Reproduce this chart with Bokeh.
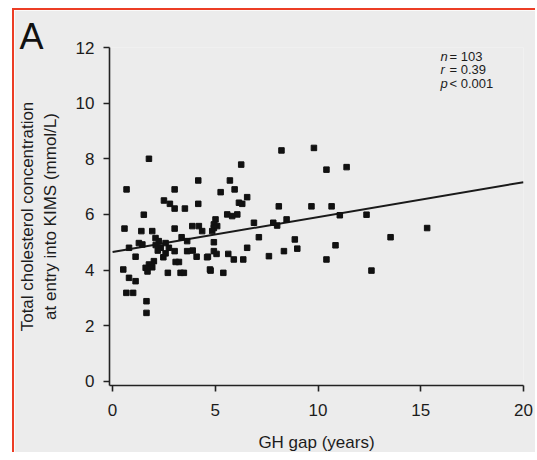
from bokeh.plotting import figure
from bokeh.models import Range1d, Label, FixedTicker
from bokeh.embed import file_html
from bokeh.resources import INLINE

# GH gap (years) and total cholesterol (mmol/L) for n = 103 patients
gh_gap = [1.77, 4.17, 0.68, 3.02, 2.50, 2.79, 3.02, 3.52, 4.17, 1.52,
          0.58, 1.40, 1.93, 3.02, 3.88, 4.20, 4.36, 3.36, 2.09, 2.25,
          1.28, 1.45, 2.58, 3.63, 0.80, 2.34, 2.74, 3.02, 3.63, 2.58,
          2.47, 1.12, 4.09, 4.64, 2.01, 3.07, 3.23, 1.77, 1.61, 1.93,
          0.52, 2.69, 3.31, 3.47, 4.74, 0.80, 1.12, 0.67, 1.00, 1.65,
          1.65, 8.22, 6.26, 5.71, 5.26, 5.94, 6.55, 6.15, 6.31, 8.09,
          5.58, 5.82, 6.07, 5.01, 4.93, 5.09, 4.93, 6.88, 7.82, 8.01,
          8.47, 7.12, 4.93, 8.87, 6.55, 8.99, 4.93, 5.06, 4.60, 5.63,
          5.90, 6.36, 7.61, 8.34, 4.77, 5.39, 9.80, 10.41, 11.39, 9.68,
          10.66, 11.06, 12.36, 13.53, 15.31, 10.85, 10.41, 12.60, 4.85, 2.20,
          1.70, 2.10, 3.90]
cholesterol = [8.00, 7.22, 6.90, 6.90, 6.50, 6.38, 6.21, 6.21, 6.38, 5.99,
               5.49, 5.40, 5.40, 5.49, 5.58, 5.58, 5.40, 5.18, 5.15, 5.04,
               4.97, 4.92, 4.97, 5.04, 4.80, 4.80, 4.80, 4.68, 4.68, 4.60,
               4.46, 4.48, 4.48, 4.48, 4.32, 4.29, 4.29, 4.20, 4.08, 4.10,
               4.02, 3.90, 3.90, 3.90, 4.02, 3.72, 3.60, 3.18, 3.18, 2.88,
               2.46, 8.30, 7.79, 7.22, 6.80, 6.90, 6.62, 6.42, 6.38, 6.29,
               6.00, 5.94, 6.00, 5.82, 5.64, 5.58, 5.51, 5.70, 5.70, 5.60,
               5.82, 5.18, 5.00, 5.10, 4.80, 4.77, 4.68, 4.58, 4.46, 4.58,
               4.38, 4.38, 4.50, 4.68, 3.98, 3.90, 8.39, 7.61, 7.70, 6.29,
               6.29, 5.97, 5.99, 5.18, 5.51, 4.89, 4.38, 3.98, 5.40, 4.70,
               3.95, 4.90, 4.70]

# regression line end points
fit_x = [0, 20]
fit_y = [4.65, 7.16]

x_ticks = [0, 5, 10, 15, 20]
y_ticks = [0, 2, 4, 6, 8, 10, 12]

stats_vars = ["n", "r", "p"]
stats_rest = [" = 103", " = 0.39", " < 0.001"]

FONT = "Liberation Sans"
TXT = "#1c1c1c"
BG = "#ececec"

p = figure(width=523, height=444, output_backend="svg", toolbar_location=None,
           x_range=Range1d(-0.15, 20), y_range=Range1d(-0.15, 12),
           min_border_left=95, min_border_right=14, min_border_top=37,
           min_border_bottom=69)
p.margin = (8, 0, 0, 12)
p.styles = {"border-left": "2px solid #ec3d25", "border-top": "2px solid #ec3d25"}

p.background_fill_color = BG
p.border_fill_color = BG
p.outline_line_color = None
p.grid.visible = False

# panel letter
p.title.text = "A"
p.title.text_font = FONT
p.title.text_font_size = "36px"
p.title.text_font_style = "normal"
p.title.text_color = "#111111"
p.title.align = "left"
p.title.offset = -90
p.title.standoff = -18

p.xaxis.ticker = FixedTicker(ticks=x_ticks)
p.yaxis.ticker = FixedTicker(ticks=y_ticks)
for ax in (p.xaxis[0], p.yaxis[0]):
    ax.axis_line_color = "#222222"
    ax.axis_line_width = 1.6
    ax.major_tick_line_color = "#222222"
    ax.major_tick_line_width = 1.6
    ax.major_tick_out = 6
    ax.major_tick_in = 0
    ax.minor_tick_line_color = None
    ax.major_label_text_font = FONT
    ax.major_label_text_font_size = "17px"
    ax.major_label_text_color = TXT
    ax.axis_label_text_font = FONT
    ax.axis_label_text_font_size = "17px"
    ax.axis_label_text_font_style = "normal"
    ax.axis_label_text_color = TXT

p.xaxis.axis_label = "GH gap (years)"
p.xaxis.major_label_standoff = 12
p.xaxis.axis_label_standoff = 14
p.yaxis.axis_label = "Total cholesterol concentration\nat entry into KIMS (mmol/L)"
p.yaxis.major_label_standoff = 9
p.yaxis.axis_label_standoff = 13

p.line(fit_x, fit_y, line_color="#1a1a1a", line_width=2)
p.scatter(gh_gap, cholesterol, marker="square", size=5.5, fill_color="#111111",
          line_color="#111111", line_width=1, line_join="round")

# statistics
ys = [11.69, 11.22, 10.72]
for v, rest, yy in zip(stats_vars, stats_rest, ys):
    p.add_layout(Label(x=15.96, y=yy, text=v, text_font=FONT, text_font_size="13px",
                       text_font_style="italic", text_color=TXT, text_baseline="alphabetic"))
    p.add_layout(Label(x=15.96, y=yy, x_offset=9, text=rest, text_font=FONT,
                       text_font_size="13px", text_color=TXT, text_baseline="alphabetic"))

open("out.html", "w").write(file_html(p, INLINE))
